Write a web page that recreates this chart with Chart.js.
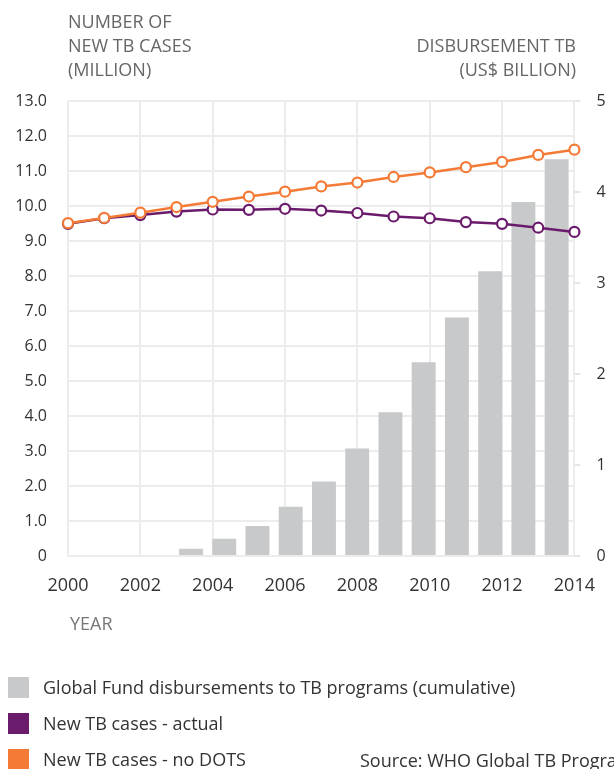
<!DOCTYPE html>
<html>
<head>
<meta charset="utf-8">
<script src="https://cdn.jsdelivr.net/npm/chart.js@4"></script>
<style>
  html, body { margin: 0; padding: 0; background: #fff; overflow: hidden; }
  body { width: 614px; height: 769px; position: relative; font-family: "Open Sans", sans-serif; }
  #chart { position: absolute; left: 0; top: 0; }
  .lbl { position: absolute; font-size: 18px; line-height: 24px; color: #666; white-space: nowrap; }
  .legend-row { position: absolute; left: 8px; display: flex; align-items: center; font-size: 18px; color: #333; white-space: nowrap; }
  .swatch { width: 21px; height: 21px; margin-right: 14px; }
</style>
</head>
<body>
<canvas id="chart" width="614" height="769"></canvas>

<div class="lbl" style="left:68px; top:9px;">NUMBER OF<br>NEW TB CASES<br>(MILLION)</div>
<div class="lbl" style="right:38px; top:33px; text-align:right;">DISBURSEMENT TB<br>(US$ BILLION)</div>
<div class="lbl" style="left:70px; top:611px; color:#777;">YEAR</div>

<div class="legend-row" style="top:675px;"><div class="swatch" style="background:#c8c9cb"></div>Global Fund disbursements to TB programs (cumulative)</div>
<div class="legend-row" style="top:711px;"><div class="swatch" style="background:#6b1b6c"></div>New TB cases - actual</div>
<div class="legend-row" style="top:747px;"><div class="swatch" style="background:#f47a36"></div>New TB cases - no DOTS</div>
<div class="lbl" style="left:360px; top:748px; color:#333;">Source: WHO Global TB Programme</div>

<script>
const years = [2000, 2001, 2002, 2003, 2004, 2005, 2006, 2007, 2008, 2009, 2010, 2011, 2012, 2013, 2014];
// new TB cases (million)
const casesActual = [9.49, 9.65, 9.74, 9.84, 9.90, 9.89, 9.92, 9.87, 9.80, 9.70, 9.65, 9.54, 9.49, 9.38, 9.26];
const casesNoDots = [9.51, 9.66, 9.81, 9.97, 10.12, 10.27, 10.41, 10.56, 10.67, 10.83, 10.96, 11.11, 11.26, 11.46, 11.61];
// Global Fund disbursements, cumulative (US$ billion)
const disbursements = [null, null, null, 0.08, 0.19, 0.33, 0.54, 0.82, 1.18, 1.58, 2.13, 2.62, 3.13, 3.89, 4.36];

const ORANGE = "#f47a36";
const PURPLE = "#6b1b6c";
const GREY = "#c8c9cb";
const GRID = "#ececec";

const pairs = (vals) => years.map((y, i) => ({ x: y, y: vals[i] })).filter((p) => p.y !== null);

const lineSet = (label, vals, color, order) => ({
  type: "line",
  label,
  data: pairs(vals),
  xAxisID: "x",
  yAxisID: "y",
  borderColor: color,
  borderWidth: 2.5,
  pointRadius: 5,
  pointBorderWidth: 2.2,
  pointBackgroundColor: "#fff",
  pointBorderColor: color,
  clip: false,
  order,
});

new Chart(document.getElementById("chart"), {
  type: "bar",
  data: {
    datasets: [
      lineSet("New TB cases - no DOTS", casesNoDots, ORANGE, 0),
      lineSet("New TB cases - actual", casesActual, PURPLE, 1),
      {
        type: "bar",
        label: "Global Fund disbursements to TB programs (cumulative)",
        data: pairs(disbursements),
        xAxisID: "xb",
        yAxisID: "y1",
        backgroundColor: GREY,
        grouped: false,
        maxBarThickness: 24,
        order: 2,
      },
    ],
  },
  options: {
    responsive: false,
    animation: false,
    devicePixelRatio: 1,
    layout: { padding: { top: 101, left: 0, right: 0, bottom: 0 } },
    plugins: { legend: { display: false }, tooltip: { enabled: false } },
    scales: {
      x: {
        type: "linear",
        min: 2000,
        max: 2014,
        offset: false,
        position: "bottom",
        grid: { color: GRID, lineWidth: 2, drawTicks: false, offset: false },
        border: { display: false },
        ticks: {
          stepSize: 2,
          padding: 19,
          color: "#333",
          font: { family: "Open Sans", size: 18 },
          callback: (v) => String(v),
        },
        afterFit: (s) => { s.height = 213; },
      },
      xb: {
        type: "linear",
        display: false,
        offset: false,
        grid: { offset: false },
        min: 1999.3,
        max: 2014.535,
      },
      y: {
        position: "left",
        min: 0,
        max: 13,
        grid: { color: GRID, lineWidth: 2, drawTicks: false },
        border: { display: false },
        ticks: {
          stepSize: 1,
          padding: 21,
          color: "#333",
          font: { family: "Open Sans", size: 16 },
          callback: (v) => (v === 0 ? "0" : v.toFixed(1)),
        },
        afterFit: (s) => { s.width = 68; },
      },
      y1: {
        position: "right",
        min: 0,
        max: 5,
        grid: { drawOnChartArea: false, color: "#e6e6e6", lineWidth: 2, tickLength: 6 },
        border: { display: false },
        ticks: {
          stepSize: 1,
          padding: 16,
          color: "#333",
          font: { family: "Open Sans", size: 16 },
        },
        afterFit: (s) => { s.width = 35; },
      },
    },
  },
});
</script>
</body>
</html>
